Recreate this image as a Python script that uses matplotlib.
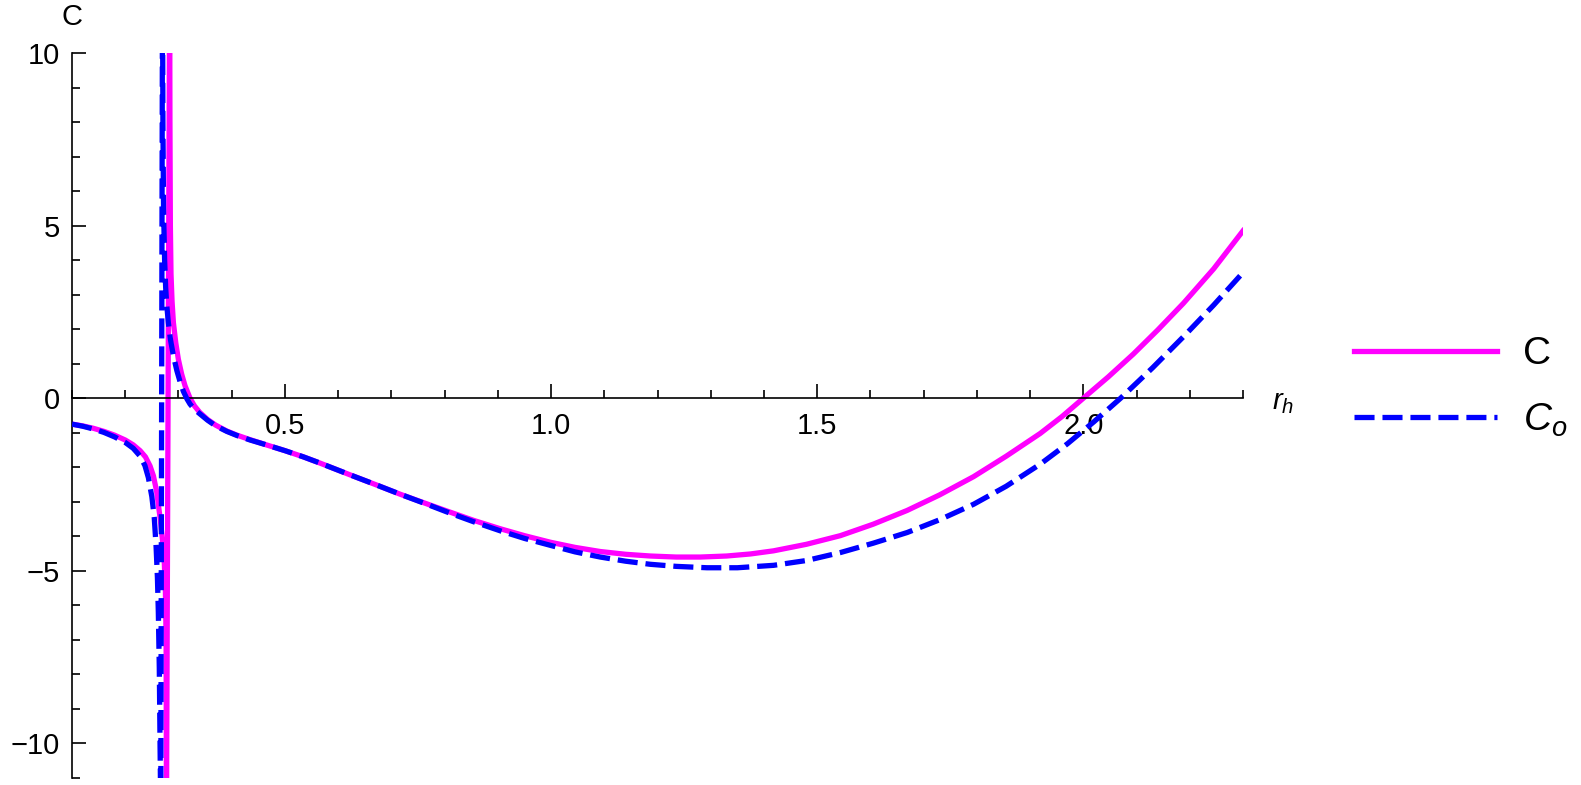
import matplotlib
matplotlib.use("Agg")
import matplotlib.pyplot as plt
import numpy as np

# ============= data
# C (solid magenta), left branch then right branch of the pole near r_h ~ 0.28
c_left_x = [0.100, 0.120, 0.140, 0.160, 0.180, 0.200, 0.215, 0.228, 0.238, 0.2466,
            0.253, 0.259, 0.2654, 0.2700, 0.2735, 0.2755, 0.2768, 0.2775]
c_left_y = [-0.75, -0.80, -0.87, -0.96, -1.07, -1.21, -1.35, -1.52, -1.70, -1.96,
            -2.25, -2.70, -3.45, -4.10, -4.80, -5.60, -7.00, -12.0]
c_right_x = [0.2835, 0.2840, 0.2848, 0.2860, 0.2880, 0.2905, 0.2950, 0.2998, 0.3060,
             0.3124, 0.3218, 0.330, 0.340, 0.355, 0.370, 0.3908, 0.410, 0.4346, 0.465,
             0.5004, 0.535, 0.5662, 0.6226, 0.670, 0.7165, 0.765, 0.8105, 0.855,
             0.9045, 0.950, 0.9985, 1.045, 1.0925, 1.140, 1.1865, 1.235, 1.2805,
             1.330, 1.375, 1.418, 1.480, 1.5436, 1.605, 1.669, 1.730, 1.794, 1.855,
             1.919, 1.960, 2.000, 2.047, 2.094, 2.140, 2.188, 2.245, 2.300]
c_right_y = [12.0, 8.0, 5.0, 3.6, 2.8, 2.19, 1.60, 1.13, 0.70,
             0.36, 0.0, -0.22, -0.41, -0.62, -0.78, -0.95, -1.07, -1.20, -1.35,
             -1.52, -1.70, -1.88, -2.22, -2.50, -2.78, -3.05, -3.30, -3.54,
             -3.78, -3.98, -4.17, -4.32, -4.44, -4.52, -4.57, -4.60, -4.60,
             -4.57, -4.51, -4.42, -4.23, -3.98, -3.65, -3.25, -2.80, -2.27, -1.68,
             -1.02, -0.53, 0.0, 0.62, 1.28, 1.98, 2.75, 3.75, 4.85]

# C_o (dashed blue)
co_left_x = [0.100, 0.120, 0.140, 0.160, 0.180, 0.200, 0.215, 0.2276, 0.237, 0.2435,
             0.250, 0.2545, 0.258, 0.2605, 0.2622, 0.2640, 0.2654, 0.2668]
co_left_y = [-0.75, -0.81, -0.89, -0.99, -1.12, -1.28, -1.45, -1.67, -1.95, -2.30,
             -2.85, -3.45, -4.30, -5.20, -6.20, -7.80, -10.0, -12.0]
co_right_x = [0.2700, 0.2708, 0.2720, 0.2740, 0.2760, 0.2780, 0.2810, 0.2850, 0.2905,
              0.2970, 0.3030, 0.3092, 0.3160, 0.3218, 0.330, 0.340, 0.355, 0.370,
              0.3908, 0.410, 0.4346, 0.465, 0.5004, 0.535, 0.5662, 0.6226, 0.670,
              0.7165, 0.765, 0.8105, 0.855, 0.9045, 0.950, 0.9985, 1.045, 1.0925,
              1.140, 1.1865, 1.235, 1.293, 1.350, 1.418, 1.480, 1.5436, 1.605, 1.669,
              1.730, 1.794, 1.855, 1.919, 1.970, 2.020, 2.070, 2.130, 2.188, 2.245,
              2.300]
co_right_y = [12.0, 8.0, 5.5, 4.0, 3.2, 2.7, 2.19, 1.70, 1.23,
              0.80, 0.48, 0.20, -0.02, -0.17, -0.32, -0.45, -0.64, -0.80,
              -0.96, -1.08, -1.21, -1.35, -1.52, -1.70, -1.88, -2.22, -2.50,
              -2.78, -3.06, -3.33, -3.58, -3.84, -4.06, -4.26, -4.45, -4.60,
              -4.72, -4.81, -4.87, -4.91, -4.91, -4.84, -4.70, -4.47, -4.20, -3.89,
              -3.52, -3.07, -2.55, -1.91, -1.32, -0.68, 0.0, 0.88, 1.78, 2.70,
              3.64]

x_major = [0.5, 1.0, 1.5, 2.0]
x_major_labels = ["0.5", "1.0", "1.5", "2.0"]
y_major = [-10, -5, 0, 5, 10]

# ============= taille
my_dpi = 100
fig = plt.figure(figsize=(1581 / my_dpi, 785 / my_dpi), dpi=my_dpi)

plt.rcParams['font.family'] = ['Liberation Sans', 'DejaVu Sans']
plt.rcParams['mathtext.fontset'] = 'custom'
plt.rcParams['mathtext.rm'] = 'Liberation Sans'
plt.rcParams['mathtext.it'] = 'Liberation Sans:italic'

TICK_SIZE = 21
LEG_SIZE = 28
line_width = 3.8

ax = fig.add_axes([72 / 1581, 7 / 785, (1243 - 72) / 1581, (778 - 53) / 785])

pink = "#ff00ff"
blue = "#0000ff"

# on relie les deux branches comme Mathematica (trait quasi vertical)
c_x = c_left_x + c_right_x
c_y = c_left_y + c_right_y
co_x = co_left_x + co_right_x
co_y = co_left_y + co_right_y

l1, = ax.plot(c_x, c_y, color=pink, linewidth=line_width, label="C", zorder=2,
              solid_joinstyle='round')
l2, = ax.plot(co_x, co_y, color=blue, linewidth=line_width, linestyle=(0, (3.8, 1.5)),
              dash_capstyle='butt', dash_joinstyle='round', label="$C_o$", zorder=3)

ax.set_xlim(0.1, 2.3)
ax.set_ylim(-11, 10)

# axes a la Mathematica
ax.spines['top'].set_visible(False)
ax.spines['right'].set_visible(False)
ax.spines['bottom'].set_position(('data', 0))
ax.spines['bottom'].set_linewidth(1.2)
ax.spines['left'].set_linewidth(1.2)

ax.set_xticks(x_major)
ax.set_xticklabels(x_major_labels)
ax.set_xticks(np.arange(0.1, 2.31, 0.1), minor=True)
ax.set_yticks(y_major)
ax.set_yticks(np.arange(-11, 10.5, 1), minor=True)

ax.tick_params(axis='both', which='major', direction='in', length=10, width=1.2,
               labelsize=TICK_SIZE)
ax.tick_params(axis='both', which='minor', direction='in', length=5.8, width=1.2)
ax.tick_params(axis='x', which='major', pad=10)
ax.tick_params(axis='y', which='major', pad=8.5)

ax.annotate("C", xy=(0, 1), xycoords='axes fraction', xytext=(0, 26),
            textcoords='offset points', ha='center', va='center', fontsize=TICK_SIZE)
ax.annotate("$r_h$", xy=(1, 0), xycoords=('axes fraction', 'data'), xytext=(29, -3),
            textcoords='offset points', ha='center', va='center', fontsize=TICK_SIZE)

fig.legend(handles=[l1, l2], loc='center left', bbox_to_anchor=(1354 / 1581, 1 - 387.5 / 785),
           frameon=False, fontsize=LEG_SIZE, handlelength=3.68, handletextpad=0.67,
           labelspacing=0.75, borderpad=0, borderaxespad=0)

plt.savefig("out.png", dpi=my_dpi)
